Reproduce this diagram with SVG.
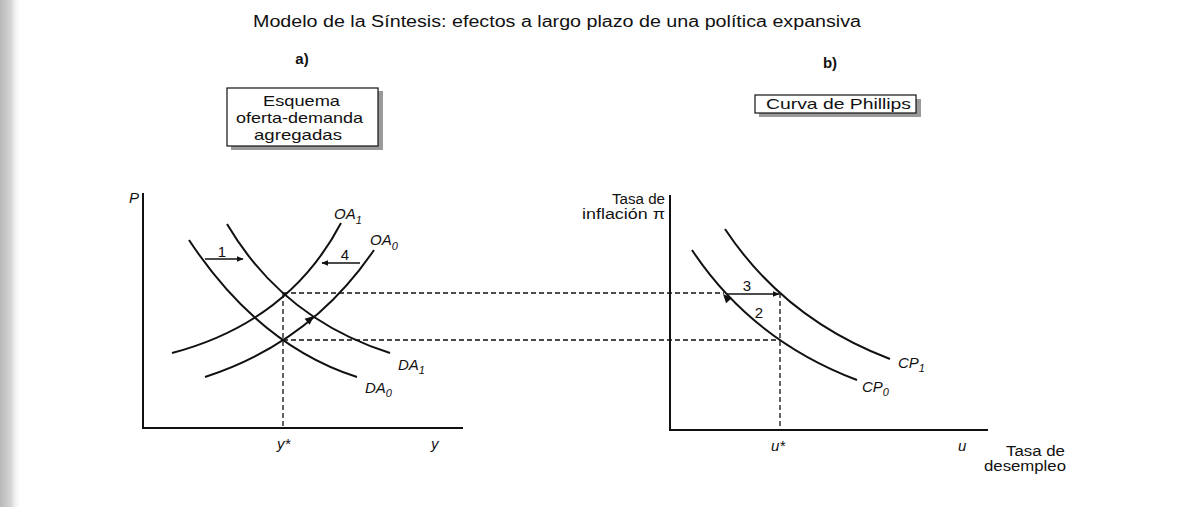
<svg xmlns="http://www.w3.org/2000/svg" width="1183" height="507" viewBox="0 0 1183 507">
<defs>
<linearGradient id="edge" x1="0" y1="0" x2="1" y2="0">
<stop offset="0" stop-color="#b8b8b8"/>
<stop offset="0.5" stop-color="#d6d6d6"/>
<stop offset="1" stop-color="#ffffff" stop-opacity="0"/>
</linearGradient>
<marker id="ah" viewBox="0 0 10 10" refX="9" refY="5" markerWidth="7" markerHeight="7" markerUnits="userSpaceOnUse" orient="auto">
<path d="M0,1 L10,5 L0,9 Z" fill="#111"/>
</marker>
</defs>
<style>
.t{font-family:"Liberation Sans",Arial,sans-serif;fill:#111}
.i{font-family:"Liberation Sans",Arial,sans-serif;font-style:italic;fill:#111;font-size:15px}
.sub{font-size:11px}
.ax{stroke:#111;stroke-width:2;fill:none}
.cv{stroke:#111;stroke-width:2;fill:none}
.ds{stroke:#111;stroke-width:1.3;stroke-dasharray:5 3;fill:none}
.ar{stroke:#111;stroke-width:1.3;fill:none;marker-end:url(#ah)}
.box{fill:#fff;stroke:#111;stroke-width:1.2}
.sh{fill:#9a9a9a}
</style>
<rect width="1183" height="507" fill="#fff"/>
<rect x="0" y="0" width="22" height="507" fill="url(#edge)"/>

<text class="t" x="253" y="27" font-size="16" textLength="608" lengthAdjust="spacingAndGlyphs">Modelo de la Síntesis: efectos a largo plazo de una política expansiva</text>

<g id="label-a"><text class="t" x="302" y="64" font-size="15" font-weight="bold" text-anchor="middle">a)</text></g>
<g id="label-b"><text class="t" x="830" y="68" font-size="15" font-weight="bold" text-anchor="middle">b)</text></g>

<g id="box-a">
<rect class="sh" x="231" y="91" width="152" height="59"/>
<rect class="box" x="227" y="88" width="151" height="58"/>
<text class="t" x="263" y="106" font-size="15" textLength="77" lengthAdjust="spacingAndGlyphs">Esquema</text>
<text class="t" x="236" y="123" font-size="15" textLength="127" lengthAdjust="spacingAndGlyphs">oferta-demanda</text>
<text class="t" x="254" y="140" font-size="15" textLength="88" lengthAdjust="spacingAndGlyphs">agregadas</text>
</g>

<g id="box-b">
<rect class="sh" x="759" y="99" width="162" height="18"/>
<rect class="box" x="755" y="95" width="161" height="18"/>
<text class="t" x="766" y="109" font-size="15" textLength="145" lengthAdjust="spacingAndGlyphs">Curva de Phillips</text>
</g>

<g id="axes-left">
<path class="ax" d="M143,193 V428 H463"/>
<text class="i" x="129" y="203">P</text>
<text class="i" x="277" y="449">y*</text>
<text class="i" x="431" y="449">y</text>
</g>

<g id="axes-right">
<path class="ax" d="M670,195 V430 H988"/>
<text class="t" x="612" y="204" font-size="14" textLength="53" lengthAdjust="spacingAndGlyphs">Tasa de</text>
<text class="t" x="582" y="219" font-size="14" textLength="83" lengthAdjust="spacingAndGlyphs">inflación π</text>
<text class="i" x="771" y="451">u*</text>
<text class="i" x="958" y="451">u</text>
<text class="t" x="1006" y="456" font-size="14" textLength="59" lengthAdjust="spacingAndGlyphs">Tasa de</text>
<text class="t" x="984" y="471" font-size="14" textLength="82" lengthAdjust="spacingAndGlyphs">desempleo</text>
</g>

<g id="curve-DA0">
<path class="cv" d="M189,240 Q258.8,345.6 357,377"/>
<text class="i" x="365" y="393">DA<tspan class="sub" dy="4">0</tspan></text>
</g>
<g id="curve-DA1">
<path class="cv" d="M227,224 Q282.9,318.9 390,353"/>
<text class="i" x="398" y="370">DA<tspan class="sub" dy="4">1</tspan></text>
</g>
<g id="curve-OA1">
<path class="cv" d="M172,353 Q289.1,322 341,223"/>
<text class="i" x="334" y="219">OA<tspan class="sub" dy="5">1</tspan></text>
</g>
<g id="curve-OA0">
<path class="cv" d="M205,377 Q310.8,342.9 374,250"/>
<text class="i" x="370" y="245">OA<tspan class="sub" dy="5">0</tspan></text>
</g>
<g id="curve-CP0">
<path class="cv" d="M692,250 Q751.6,340 857,380"/>
<text class="i" x="862" y="392">CP<tspan class="sub" dy="4">0</tspan></text>
</g>
<g id="curve-CP1">
<path class="cv" d="M725,229 Q784.6,319 890,359"/>
<text class="i" x="898" y="368">CP<tspan class="sub" dy="4">1</tspan></text>
</g>

<g id="connectors">
<path class="ds" d="M283,293 V428"/>
<path class="ds" d="M283,293 H724"/>
<path class="ds" d="M283,340 H780"/>
<path class="ds" d="M780,293 V430"/>
<path class="ar" d="M205,259 H243"/>
<path class="ar" d="M360,263 H322"/>
<path class="ar" d="M726,294 H779"/>
<path d="M0,0 L-9,-4 L-9,4 Z" fill="#111" transform="translate(314,316) rotate(-40)"/>
<path d="M0,0 L-9,-4 L-9,4 Z" fill="#111" transform="translate(723,294) rotate(228)"/>
<text class="t" x="222" y="257" font-size="15" text-anchor="middle">1</text>
<text class="t" x="345" y="260" font-size="15" text-anchor="middle">4</text>
<text class="t" x="747" y="291" font-size="15" text-anchor="middle">3</text>
<text class="t" x="759" y="318" font-size="15" text-anchor="middle">2</text>
</g>
</svg>
